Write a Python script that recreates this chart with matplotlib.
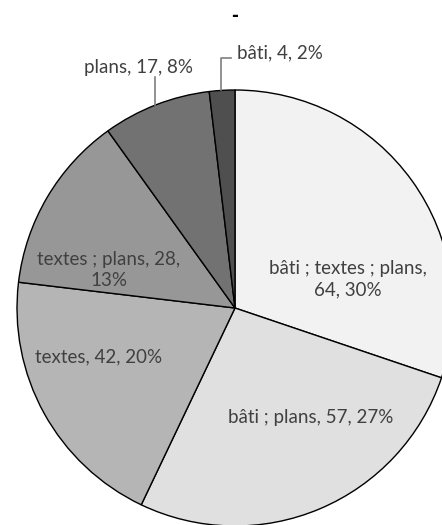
import numpy as np
import matplotlib.pyplot as plt

# data
categories = ['bâti ; textes ; plans', 'bâti ; plans', 'textes', 'textes ; plans', 'plans', 'bâti']
counts = [64, 57, 42, 28, 17, 4]
percents = [30, 27, 20, 13, 8, 2]
colors = ['#f2f2f2', '#e0e0e0', '#b5b5b5', '#979797', '#727272', '#4f4f4f']

W, H = 442, 525
cx, cy, R = 235, H - 308, 218

fig = plt.figure(figsize=(W / 100, H / 100), dpi=100)
ax = fig.add_axes([0, 0, 1, 1])

ax.pie(counts, colors=colors, startangle=90, counterclock=False,
       center=(cx, cy), radius=R, frame=True,
       wedgeprops=dict(edgecolor='black', linewidth=1.0))
ax.set_xlim(0, W)
ax.set_ylim(0, H)
ax.set_aspect('equal')
ax.axis('off')

labels = [f'{c}, {n}, {p}%' for c, n, p in zip(categories, counts, percents)]
labels[0] = f'{categories[0]},\n{counts[0]}, {percents[0]}%'
labels[3] = f'{categories[3]}, {counts[3]},\n{percents[3]}%'

# label positions (pixel coords from top-left)
label_pos = [(348, 279), (311, 417), (99, 357), (109, 270), (139, 68), (237, 53)]
ha = ['center', 'center', 'center', 'center', 'center', 'left']
txt_col = '#404040'
for lab, (x, y), h in zip(labels, label_pos, ha):
    ax.text(x, H - y, lab, ha=h, va='center', fontsize=13.5, color=txt_col,
            family='Lato', linespacing=1.35)

# leader lines for the small slices
def edge_y(x):
    return cy + np.sqrt(R**2 - (x - cx)**2)

ax.plot([155, 155], [H - 77, edge_y(155)], color='#7f7f7f', lw=1.2)
ax.plot([231, 221, 221], [H - 58, H - 58, edge_y(221)], color='#7f7f7f', lw=1.2)

ax.text(235, H - 16, '-', ha='center', va='center', fontsize=12,
        fontweight='bold', color='black')

fig.savefig('out.png', dpi=100)
